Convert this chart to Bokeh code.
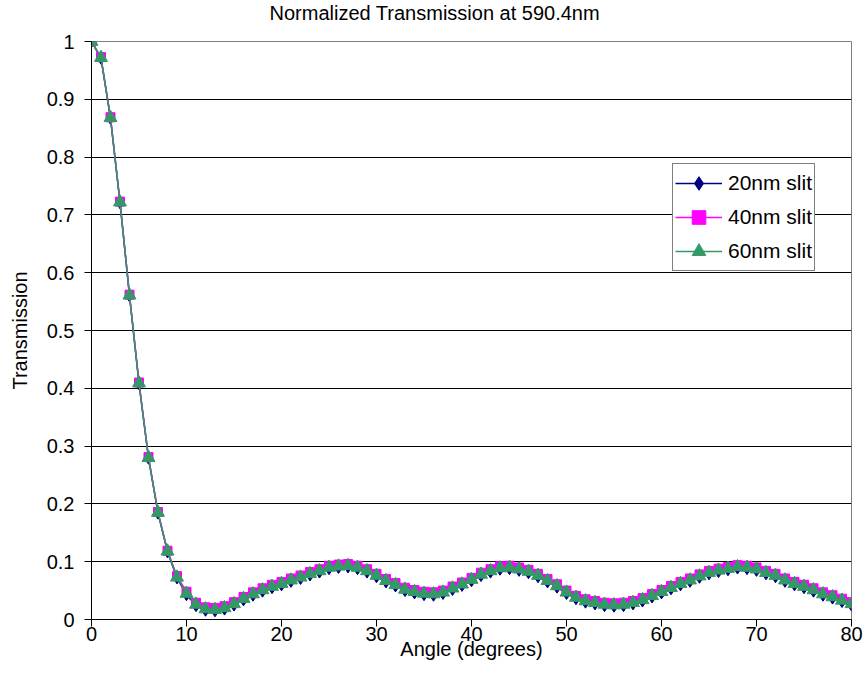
from bokeh.plotting import figure
from bokeh.models import (FixedTicker, CustomJSTickFormatter, Legend, LegendItem,
                          Range1d, Title)
from bokeh.embed import file_html
from bokeh.resources import INLINE

# ---------------- data ----------------
angles = list(range(0, 81))

t20 = [1.000, 0.971, 0.867, 0.721, 0.560, 0.408, 0.279, 0.184, 0.117, 0.072,
       0.043, 0.024, 0.016, 0.015, 0.018, 0.025, 0.034, 0.042, 0.049, 0.055,
       0.060, 0.066, 0.071, 0.077, 0.082, 0.088, 0.090, 0.091, 0.088, 0.082,
       0.074, 0.065, 0.058, 0.050, 0.046, 0.043, 0.042, 0.045, 0.052, 0.059,
       0.067, 0.076, 0.082, 0.087, 0.088, 0.085, 0.081, 0.074, 0.065, 0.056,
       0.045, 0.036, 0.030, 0.027, 0.024, 0.023, 0.024, 0.027, 0.032, 0.039,
       0.046, 0.053, 0.060, 0.066, 0.073, 0.079, 0.083, 0.086, 0.089, 0.088,
       0.085, 0.079, 0.074, 0.066, 0.060, 0.055, 0.049, 0.042, 0.037, 0.031,
       0.025]

t40 = [1.000, 0.973, 0.869, 0.723, 0.562, 0.410, 0.281, 0.186, 0.119, 0.075,
       0.048, 0.029, 0.021, 0.020, 0.023, 0.030, 0.039, 0.047, 0.054, 0.060,
       0.065, 0.071, 0.076, 0.082, 0.087, 0.093, 0.095, 0.096, 0.093, 0.087,
       0.079, 0.070, 0.063, 0.055, 0.051, 0.048, 0.047, 0.050, 0.057, 0.064,
       0.072, 0.081, 0.087, 0.092, 0.093, 0.090, 0.086, 0.079, 0.070, 0.061,
       0.050, 0.041, 0.035, 0.032, 0.029, 0.028, 0.029, 0.032, 0.037, 0.044,
       0.051, 0.058, 0.065, 0.071, 0.078, 0.084, 0.088, 0.091, 0.094, 0.093,
       0.090, 0.084, 0.079, 0.071, 0.065, 0.060, 0.054, 0.047, 0.042, 0.036,
       0.030]

t60 = [1.000, 0.972, 0.868, 0.722, 0.561, 0.409, 0.280, 0.185, 0.118, 0.073,
       0.045, 0.026, 0.018, 0.017, 0.020, 0.027, 0.036, 0.044, 0.051, 0.057,
       0.062, 0.068, 0.073, 0.079, 0.084, 0.090, 0.092, 0.093, 0.090, 0.084,
       0.076, 0.067, 0.060, 0.052, 0.048, 0.045, 0.044, 0.047, 0.054, 0.061,
       0.069, 0.078, 0.084, 0.089, 0.090, 0.087, 0.083, 0.076, 0.067, 0.058,
       0.047, 0.038, 0.032, 0.029, 0.026, 0.025, 0.026, 0.029, 0.034, 0.041,
       0.048, 0.055, 0.062, 0.068, 0.075, 0.081, 0.085, 0.088, 0.091, 0.090,
       0.087, 0.081, 0.076, 0.068, 0.062, 0.057, 0.051, 0.044, 0.039, 0.033,
       0.027]

series_names = ["20nm slit", "40nm slit", "60nm slit"]
x_ticks = [0, 10, 20, 30, 40, 50, 60, 70, 80]
y_ticks = [0, 0.1, 0.2, 0.3, 0.4, 0.5, 0.6, 0.7, 0.8, 0.9, 1.0]
title_text = "Normalized Transmission at 590.4nm"
x_label = "Angle (degrees)"
y_label = "Transmission"

# ---------------- styling ----------------
FONT = "Liberation Sans"
NAVY = "#000080"
MAGENTA = "#FF00FF"
GREEN = "#339966"

p = figure(width=865, height=690, output_backend="svg", toolbar_location=None,
           x_range=Range1d(0, 80), y_range=Range1d(0, 1),
           min_border_left=91, min_border_right=14,
           min_border_top=0, min_border_bottom=71)
p.background_fill_color = "white"
p.border_fill_color = "white"
p.outline_line_color = "#808080"
p.outline_line_width = 1

# spacer between the title and the plot frame (keeps the frame top in place)
p.add_layout(Title(text=" ", text_font=FONT, text_font_size="8px", standoff=3), "above")

# title
p.title.text = title_text
p.title.align = "left"
p.title.offset = 178
p.title.vertical_align = "top"
p.title.standoff = 3
p.title.text_font = FONT
p.title.text_font_size = "20px"
p.title.text_font_style = "normal"
p.title.text_color = "black"

# axes
for ax in (p.xaxis[0], p.yaxis[0]):
    ax.axis_line_color = "black"
    ax.major_tick_line_color = "black"
    ax.minor_tick_line_color = None
    ax.major_tick_in = 0
    ax.major_tick_out = 7
    ax.major_label_text_font = FONT
    ax.major_label_text_font_size = "20px"
    ax.major_label_text_color = "black"
    ax.axis_label_text_font = FONT
    ax.axis_label_text_font_size = "20px"
    ax.axis_label_text_font_style = "normal"
    ax.axis_label_text_color = "black"

p.xaxis.ticker = FixedTicker(ticks=x_ticks)
p.yaxis.ticker = FixedTicker(ticks=y_ticks)
p.yaxis.formatter = CustomJSTickFormatter(code="return String(Math.round(tick*10)/10);")
p.xaxis.axis_label = x_label
p.yaxis.axis_label = y_label
p.xaxis.major_label_standoff = 0
p.xaxis.axis_label_standoff = -6
p.yaxis.major_label_standoff = 10
p.yaxis.axis_label_standoff = 13

p.xgrid.visible = False
p.ygrid.ticker = FixedTicker(ticks=y_ticks)
p.ygrid.grid_line_color = "black"
p.ygrid.grid_line_width = 1

# series
l20 = p.line(angles, t20, line_color=NAVY, line_width=1.5)
m20 = p.scatter(angles, t20, marker="diamond", size=12,
                fill_color=NAVY, line_color=NAVY)
l40 = p.line(angles, t40, line_color=MAGENTA, line_width=1.5)
m40 = p.scatter(angles, t40, marker="square", size=9,
                fill_color=MAGENTA, line_color=MAGENTA)
l60 = p.line(angles, t60, line_color=GREEN, line_width=1.5)
m60 = p.scatter(angles, t60, marker="triangle", size=13,
                fill_color=GREEN, line_color=GREEN)

legend = Legend(items=[LegendItem(label=series_names[0], renderers=[l20, m20]),
                       LegendItem(label=series_names[1], renderers=[l40, m40]),
                       LegendItem(label=series_names[2], renderers=[l60, m60])],
                location=(581, 348))
legend.border_line_color = "black"
legend.border_line_width = 1
legend.background_fill_color = "white"
legend.background_fill_alpha = 1
legend.label_text_font = FONT
legend.label_text_font_size = "21px"
legend.label_text_color = "black"
legend.glyph_width = 47
legend.glyph_height = 34
legend.label_height = 34
legend.label_standoff = 6
legend.spacing = 0
legend.padding = 2
legend.margin = 0
p.add_layout(legend)

open("out.html", "w").write(file_html(p, INLINE))
